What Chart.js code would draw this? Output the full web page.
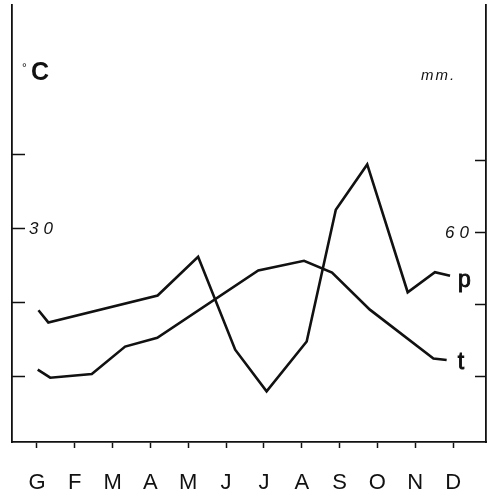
<!DOCTYPE html>
<html>
<head>
<meta charset="utf-8">
<script src="https://cdn.jsdelivr.net/npm/chart.js@4/dist/chart.umd.min.js"></script>
<style>
  html, body { margin: 0; padding: 0; background: #fff; }
  #wrap { width: 488px; height: 496px; }
</style>
</head>
<body>
<div id="wrap"><canvas id="climo" width="488" height="496"></canvas></div>
<script>
const MONTHS = ['G', 'F', 'M', 'A', 'M', 'J', 'J', 'A', 'S', 'O', 'N', 'D'];

// temperatura (°C) – vertici, x in mesi (0 = G)
const T_MONTH  = [0.02, 0.35, 1.45, 2.33, 3.18, 5.85, 7.06, 7.80, 8.80, 10.48, 10.83];
const T_VALUES = [10.9, 9.8, 10.3, 14.0, 15.2, 24.3, 25.6, 24.0, 19.0, 12.4, 12.2];

// precipitazioni (mm)
const P_MONTH  = [0.04, 0.30, 3.19, 4.26, 5.24, 6.07, 7.13, 7.90, 8.73, 9.80, 10.52, 10.92];
const P_VALUES = [38.2, 34.8, 42.3, 53.1, 27.2, 15.6, 29.5, 66.2, 78.8, 43.2, 48.8, 47.8];

const T_TICKS = [10, 20, 30, 40];
const P_TICKS = [20, 40, 60, 80];
const T_LABEL = 30;
const P_LABEL = 60;

const INK  = '#111';
const FONT = '"Liberation Sans", Arial, sans-serif';

const toPoints = (xs, ys) => xs.map((x, i) => ({ x, y: ys[i] }));

// testo un po' più marcato, come nella stampa originale
function heavyText(ctx, txt, x, y, w) {
  ctx.fillText(txt, x, y);
  ctx.lineWidth = w;
  ctx.strokeText(txt, x, y);
}

// tacche interne agli assi verticali + scritte
const climoDecor = {
  id: 'climoDecor',
  afterDraw(chart) {
    const { ctx, chartArea: a, scales } = chart;
    const { x, y, y1 } = scales;
    ctx.save();
    ctx.strokeStyle = INK;
    ctx.fillStyle   = INK;
    ctx.lineWidth   = 1.5;

    ctx.beginPath();
    T_TICKS.forEach(v => {
      const py = Math.round(y.getPixelForValue(v)) + 0.5;
      ctx.moveTo(a.left, py); ctx.lineTo(a.left + 13, py);
    });
    P_TICKS.forEach(v => {
      const py = Math.round(y1.getPixelForValue(v)) + 0.5;
      ctx.moveTo(a.right - 11, py); ctx.lineTo(a.right, py);
    });
    ctx.stroke();

    ctx.textBaseline = 'middle';
    ctx.letterSpacing = '5px';
    ctx.font = `italic 17px ${FONT}`;
    ctx.textAlign = 'left';
    ctx.fillText(String(T_LABEL), a.left + 17, y.getPixelForValue(T_LABEL) + 1);
    ctx.textAlign = 'right';
    ctx.fillText(String(P_LABEL), a.right - 12, y1.getPixelForValue(P_LABEL) + 1);

    ctx.letterSpacing = '2px';
    ctx.textAlign = 'left';
    ctx.textBaseline = 'alphabetic';
    ctx.font = `italic 15px ${FONT}`;
    ctx.fillText('mm.', 421, 80);

    ctx.letterSpacing = '0px';
    ctx.font = `12px ${FONT}`;
    ctx.fillText('°', 22, 72);
    ctx.font = `bold 25px ${FONT}`;
    ctx.fillText('C', 31, 80);

    // etichette delle serie, accanto all'ultimo punto
    ctx.font = `23px ${FONT}`;
    const lp = P_MONTH.length - 1;
    heavyText(ctx, 'p', x.getPixelForValue(P_MONTH[lp]) + 8, y1.getPixelForValue(P_VALUES[lp]) + 11, 0.9);
    const lt = T_MONTH.length - 1;
    heavyText(ctx, 't', x.getPixelForValue(T_MONTH[lt]) + 11, y.getPixelForValue(T_VALUES[lt]) + 9, 0.9);
    ctx.restore();
  },
};

const lineStyle = {
  borderColor:     INK,
  borderWidth:     2.6,
  borderJoinStyle: 'miter',
  pointRadius:     0,
  tension:         0,
  fill:            false,
};

new Chart(document.getElementById('climo'), {
  type: 'line',
  data: {
    datasets: [
      { label: 't', data: toPoints(T_MONTH, T_VALUES), yAxisID: 'y',  ...lineStyle },
      { label: 'p', data: toPoints(P_MONTH, P_VALUES), yAxisID: 'y1', ...lineStyle },
    ],
  },
  options: {
    responsive: false,
    animation:  false,
    layout: { padding: { left: 12, right: 2, top: 5, bottom: 2 } },
    plugins: { legend: { display: false }, tooltip: { enabled: false } },
    scales: {
      x: {
        type: 'linear',
        min: -0.66,
        max: 11.87,
        afterBuildTicks: s => { s.ticks = MONTHS.map((_, i) => ({ value: i })); },
        afterFit: s => { s.height = 52; },
        grid: {
          drawOnChartArea: false,
          drawTicks:       true,
          tickLength:      6,
          tickColor:       INK,
          tickWidth:       1.5,
        },
        border: { display: true, color: INK, width: 1.8 },
        ticks: {
          color:       INK,
          padding:     22,
          maxRotation: 0,
          autoSkip:    false,
          font:        { family: FONT, size: 22 },
          callback:    v => MONTHS[v] ?? '',
        },
      },
      y: {
        position: 'left',
        min: 1.1,
        max: 60.2,
        afterFit: s => { s.width = 0; },
        grid:   { display: false },
        border: { display: true, color: INK, width: 1.8 },
        ticks:  { display: false },
      },
      y1: {
        position: 'right',
        min: 1.5,
        max: 123.2,
        afterFit: s => { s.width = 0; },
        grid:   { display: false },
        border: { display: true, color: INK, width: 1.8 },
        ticks:  { display: false },
      },
    },
  },
  plugins: [climoDecor],
});
</script>
</body>
</html>
